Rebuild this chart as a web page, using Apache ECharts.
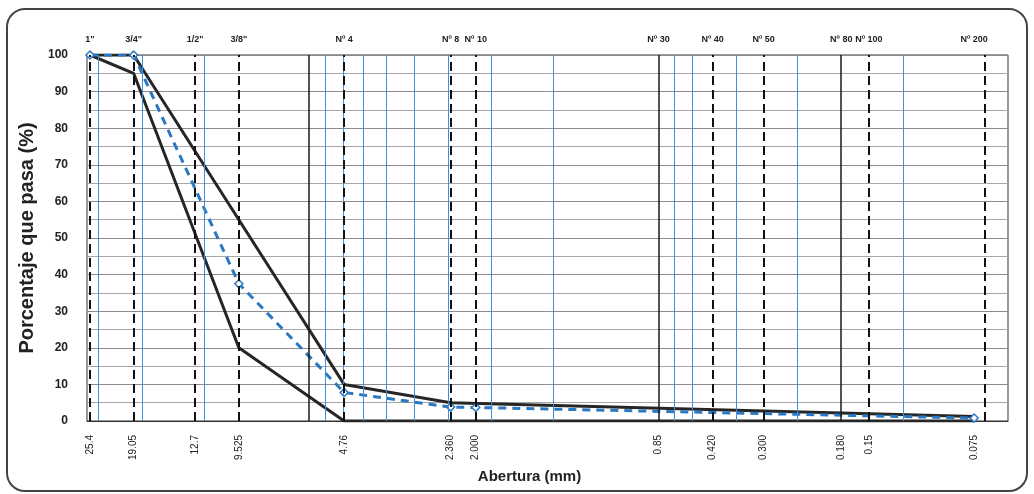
<!DOCTYPE html>
<html>
<head>
<meta charset="utf-8">
<title>Curva granulométrica</title>
<script src="https://cdn.jsdelivr.net/npm/echarts@6/dist/echarts.min.js"></script>
<style>
html, body { margin: 0; padding: 0; background: #fff; }
#chart { width: 1034px; height: 494px; }
</style>
</head>
<body>
<div id="chart"></div>
<script>
// tamices: abertura (mm), nombre arriba, texto abajo
var sieveMm = [25.4, 19.05, 12.7, 9.525, 4.76, 2.36, 2.0, 0.6, 0.42, 0.3, 0.18, 0.15, 0.075];
var sieveName = ['1"', '3/4"', '1/2"', '3/8"', 'Nº 4', 'Nº 8', 'Nº 10', 'Nº 30', 'Nº 40', 'Nº 50', 'Nº 80', 'Nº 100', 'Nº 200'];
var sieveText = ['25.4', '19.05', '12.7', '9.525', '4.76', '2.360', '2.000', '0.85', '0.420', '0.300', '0.180', '0.15', '0.075'];

// lineas verticales del papel
var dashedLines = [25.4, 19.05, 12.7, 9.525, 4.76, 2.36, 2.0, 0.42, 0.3, 0.15, 0.075];
var solidLines = [6, 0.6, 0.18];
var minorLines = [24, 18, 12, 5.4, 4.8, 4.2, 3.6, 3.0, 2.4, 1.8, 1.2, 0.54, 0.48, 0.36, 0.24, 0.12];

// curvas [abertura, % que pasa]
var upperLimit = [[25.4, 100], [19.05, 100], [9.525, 55], [4.76, 10], [2.36, 5], [0.075, 1.2]];
var lowerLimit = [[25.4, 100], [19.05, 95], [9.525, 20], [4.76, 0], [0.075, 0]];
var sample = [[25.4, 100], [19.05, 100], [9.525, 37.5], [4.76, 7.8], [2.36, 3.8], [2.0, 3.7], [0.075, 0.8]];

var font = 'Liberation Sans, Arial, sans-serif';

function sieveIndex(v) {
    for (var i = 0; i < sieveMm.length; i++) {
        if (Math.abs(sieveMm[i] - v) < sieveMm[i] * 1e-4) return i;
    }
    return -1;
}

function vLines(values, style) {
    return {
        type: 'line',
        data: [],
        silent: true,
        z: 1,
        markLine: {
            silent: true,
            animation: false,
            symbol: ['none', 'none'],
            label: { show: false },
            lineStyle: style,
            emphasis: { disabled: true },
            data: values.map(function (v) { return { xAxis: v }; })
        }
    };
}

var chart = echarts.init(document.getElementById('chart'));

chart.setOption({
    animation: false,
    textStyle: { fontFamily: font },
    graphic: [{
        type: 'rect',
        shape: { x: 7, y: 9, width: 1020, height: 482, r: 18 },
        style: { fill: 'none', stroke: '#444', lineWidth: 2 },
        silent: true
    }],
    grid: {
        left: 87, right: 26, top: 55, bottom: 73,
        show: true, borderColor: '#333', borderWidth: 1
    },
    xAxis: [{
        type: 'log',
        logBase: 10,
        min: 0.06,
        max: 25.9,
        inverse: true,
        name: 'Abertura (mm)',
        nameLocation: 'middle',
        nameGap: 48,
        nameTextStyle: { fontWeight: 'bold', fontSize: 15, color: '#222', padding: [0, 36, 0, 0] },
        axisLine: { show: true, lineStyle: { color: '#333' } },
        axisTick: { show: false },
        splitLine: { show: false },
        minorSplitLine: { show: false },
        axisLabel: {
            customValues: sieveMm,
            rotate: 90,
            margin: 14,
            fontSize: 10,
            color: '#222',
            formatter: function (v) { var i = sieveIndex(v); return i < 0 ? '' : sieveText[i]; }
        }
    }, {
        type: 'log',
        logBase: 10,
        min: 0.06,
        max: 25.9,
        inverse: true,
        position: 'top',
        axisLine: { show: false },
        axisTick: { show: false },
        splitLine: { show: false },
        axisLabel: {
            customValues: sieveMm,
            margin: 11,
            fontSize: 9,
            fontWeight: 'bold',
            color: '#222',
            formatter: function (v) { var i = sieveIndex(v); return i < 0 ? '' : sieveName[i]; }
        }
    }],
    yAxis: {
        type: 'value',
        min: 0,
        max: 100,
        interval: 10,
        name: 'Porcentaje que pasa (%)',
        nameLocation: 'middle',
        nameGap: 44,
        nameTextStyle: { fontWeight: 'bold', fontSize: 20, color: '#222' },
        axisLine: { show: false },
        axisTick: { show: false },
        axisLabel: { fontWeight: 'bold', fontSize: 12, color: '#222', margin: 19 },
        splitLine: { lineStyle: { color: '#8c8c8c', width: 1 } },
        minorTick: { show: false, splitNumber: 2 },
        minorSplitLine: { show: true, lineStyle: { color: '#a6a6a6', width: 1 } }
    },
    series: [
        vLines(minorLines, { color: '#3f8fdc', width: 1, type: 'solid' }),
        vLines(solidLines, { color: '#1a1a1a', width: 1.5, type: 'solid' }),
        vLines(dashedLines, { color: '#111', width: 2, type: [9, 5] }),
        {
            name: 'Límite superior',
            type: 'line',
            data: upperLimit,
            showSymbol: false,
            symbol: 'none',
            z: 3,
            lineStyle: { color: '#262626', width: 3 }
        },
        {
            name: 'Límite inferior',
            type: 'line',
            data: lowerLimit,
            showSymbol: false,
            symbol: 'none',
            z: 3,
            lineStyle: { color: '#262626', width: 3 }
        },
        {
            name: 'Muestra',
            type: 'line',
            data: sample,
            z: 4,
            symbol: 'diamond',
            symbolSize: 8,
            itemStyle: { color: '#fff', borderColor: '#2a78c2', borderWidth: 1.5 },
            lineStyle: { color: '#2a78c2', width: 3, type: [8, 6] }
        }
    ]
});
</script>
</body>
</html>
